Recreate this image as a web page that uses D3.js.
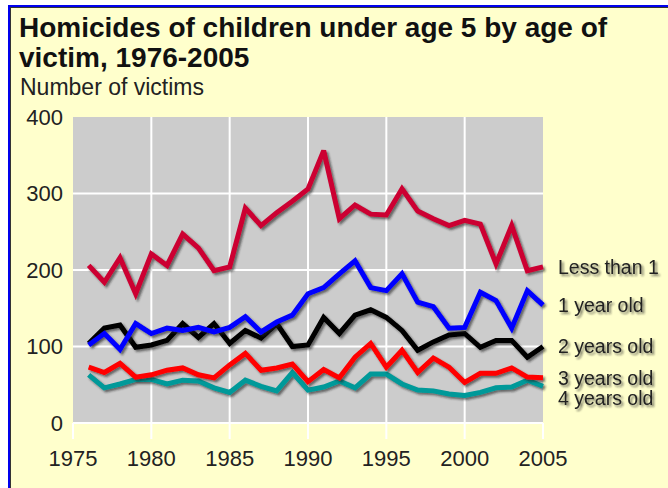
<!DOCTYPE html>
<html>
<head>
<meta charset="utf-8">
<script src="https://cdn.jsdelivr.net/npm/d3@7"></script>
<style>
  body { margin: 0; background: #fff; }
  svg text { font-family: "Liberation Sans", Arial, sans-serif; }
</style>
</head>
<body>
<div id="chart"></div>
<script>
// data
var years = d3.range(1976, 2006);
var seriesNames = ["Less than 1", "1 year old", "2 years old", "3 years old", "4 years old"];
var seriesColors = ["#cc0033", "#0000ff", "#000000", "#ff0000", "#009999"];
var lessThan1 = [206, 184, 216, 169, 221, 206, 247, 229, 199, 204, 281, 258, 275, 290, 306,
                 356, 267, 285, 273, 272, 306, 277, 267, 258, 265, 260, 208, 258, 199, 204];
var oneYear   = [102, 117, 96, 130, 117, 124, 121, 125, 119, 125, 139, 119, 132, 141, 169,
                 177, 195, 212, 177, 173, 195, 158, 152, 124, 125, 171, 160, 124, 173, 154];
var twoYears  = [104, 124, 128, 99, 102, 108, 130, 112, 130, 104, 121, 111, 130, 100, 102,
                 138, 117, 141, 148, 138, 121, 95, 106, 115, 117, 99, 108, 108, 86, 100];
var threeYears = [73, 66, 78, 60, 63, 69, 72, 63, 59, 76, 91, 69, 72, 77, 54,
                  70, 59, 86, 104, 73, 95, 66, 85, 73, 53, 65, 65, 72, 60, 59];
var fourYears = [63, 46, 51, 57, 57, 51, 56, 55, 46, 40, 56, 48, 42, 66, 43,
                 47, 55, 46, 64, 64, 51, 43, 42, 38, 36, 40, 46, 47, 56, 48];
var yTicks = [0, 100, 200, 300, 400];
var xTicks = [1975, 1980, 1985, 1990, 1995, 2000, 2005];

var allSeries = [lessThan1, oneYear, twoYears, threeYears, fourYears];

var W = 668, H = 488;
var plot = {left: 73, right: 543, top: 117, bottom: 423};

var svg = d3.select("#chart").append("svg")
    .attr("width", W)
    .attr("height", H);

// drop shadow used on the lines and labels
var defs = svg.append("defs");
var f = defs.append("filter").attr("id", "shadow")
    .attr("x", "-10%").attr("y", "-20%").attr("width", "130%").attr("height", "160%");
f.append("feDropShadow")
    .attr("dx", 2).attr("dy", 2).attr("stdDeviation", 1.3)
    .attr("flood-color", "#222").attr("flood-opacity", 0.6);

// frame: blue + dark line on top and left, pale yellow inside
svg.append("rect").attr("x", 8).attr("y", 5).attr("width", W - 8).attr("height", H - 5).attr("fill", "#0000ee");
svg.append("rect").attr("x", 10).attr("y", 7).attr("width", W - 10).attr("height", H - 7).attr("fill", "#333");
svg.append("rect").attr("x", 11).attr("y", 8).attr("width", W - 11).attr("height", H - 8).attr("fill", "#ffffcc");

// titles
svg.append("text").attr("x", 19).attr("y", 37)
    .style("font-size", "28px").style("font-weight", "bold").attr("fill", "#111")
    .text("Homicides of children under age 5 by age of");
svg.append("text").attr("x", 19).attr("y", 67)
    .style("font-size", "28px").style("font-weight", "bold").attr("fill", "#111")
    .text("victim, 1976-2005");
svg.append("text").attr("x", 20).attr("y", 95)
    .style("font-size", "23px").attr("fill", "#222")
    .text("Number of victims");

// scales
var x = d3.scaleLinear().domain([1975, 2005]).range([plot.left, plot.right]);
var y = d3.scaleLinear().domain([0, 400]).range([plot.bottom, plot.top]);

// plot background
svg.append("rect")
    .attr("x", plot.left).attr("y", plot.top)
    .attr("width", plot.right - plot.left).attr("height", plot.bottom - plot.top)
    .attr("fill", "#cccccc");

// grid: vertical lines inside, ticks running under the plot for every year label
svg.append("g").selectAll("line")
  .data(xTicks)
  .enter().append("line")
    .attr("x1", function(d) { return x(d); })
    .attr("x2", function(d) { return x(d); })
    .attr("y1", function(d) { return (d == 1975 || d == 2005) ? plot.bottom : plot.top; })
    .attr("y2", plot.bottom + 16)
    .attr("stroke", "#fff").attr("stroke-width", 2);
svg.append("g").selectAll("line")
  .data(yTicks.slice(0, 4))
  .enter().append("line")
    .attr("x1", plot.left).attr("x2", plot.right)
    .attr("y1", function(d) { return y(d); })
    .attr("y2", function(d) { return y(d); })
    .attr("stroke", "#fff").attr("stroke-width", 2);

// y axis labels
svg.append("g").selectAll("text")
  .data(yTicks)
  .enter().append("text")
    .attr("x", 63)
    .attr("y", function(d) { return y(d); })
    .attr("dy", "0.35em")
    .attr("text-anchor", "end")
    .style("font-size", "22px").attr("fill", "#222")
    .text(function(d) { return d; });

// x axis labels
svg.append("g").selectAll("text")
  .data(xTicks)
  .enter().append("text")
    .attr("x", function(d) { return x(d); })
    .attr("y", 466)
    .attr("text-anchor", "middle")
    .style("font-size", "22px").attr("fill", "#222")
    .text(function(d) { return d; });

// lines, drawn bottom series first so "Less than 1" sits on top
var line = d3.line()
    .x(function(d, i) { return x(years[i]); })
    .y(function(d) { return y(d); });

var order = [4, 3, 2, 1, 0];
svg.append("g").selectAll("path")
  .data(order)
  .enter().append("path")
    .attr("d", function(k) { return line(allSeries[k]); })
    .attr("fill", "none")
    .attr("stroke", function(k) { return seriesColors[k]; })
    .attr("stroke-width", 5)
    .attr("stroke-linejoin", "miter")
    .attr("stroke-miterlimit", 3)
    .attr("filter", "url(#shadow)");

// end labels, nudged down when they would overlap
var labelY = [];
allSeries.forEach(function(s, i) {
  var ly = y(s[s.length - 1]);
  if (i > 0 && ly - labelY[i - 1] < 20) ly = labelY[i - 1] + 20;
  labelY.push(ly);
});
svg.append("g").selectAll("text")
  .data(seriesNames)
  .enter().append("text")
    .attr("x", 558)
    .attr("y", function(d, i) { return labelY[i]; })
    .attr("dy", "0.35em")
    .style("font-size", "19.5px").attr("fill", "#222")
    .attr("filter", "url(#shadow)")
    .text(function(d) { return d; });
</script>
</body>
</html>
